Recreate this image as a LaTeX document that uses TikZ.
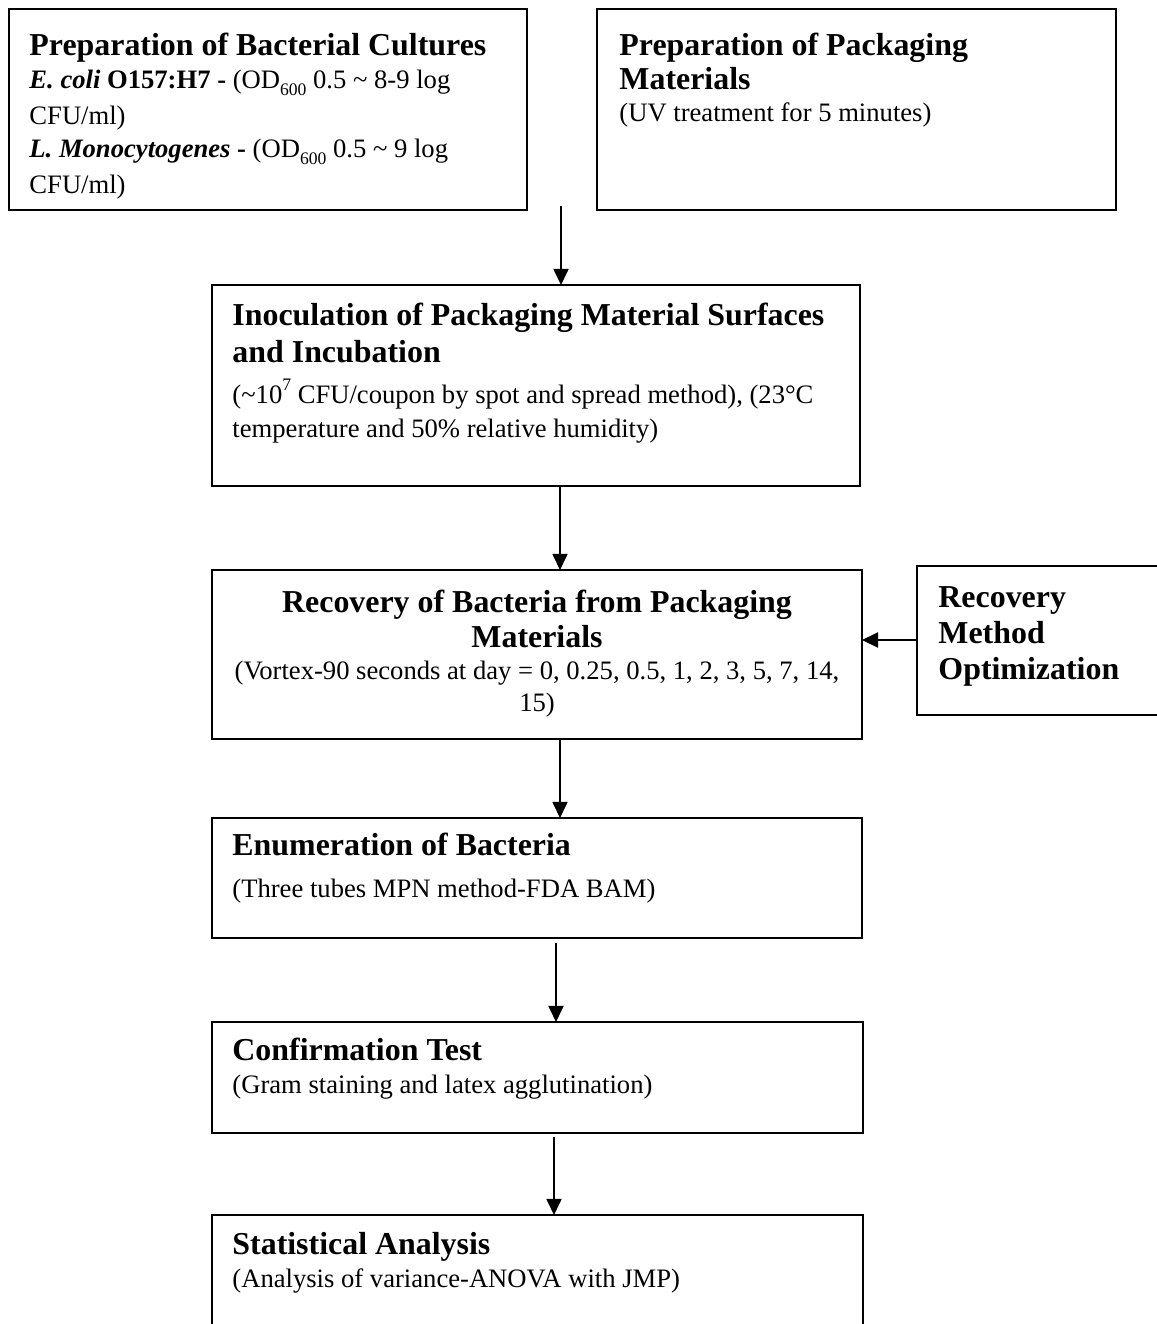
\documentclass[tikz,border=0pt]{standalone}
\usepackage{fontspec}
\setmainfont{Liberation Serif}
\usetikzlibrary{arrows.meta}
\newlength\pxu
\setlength\pxu{0.4545pt}
\newcommand\mysub[1]{\raisebox{-3.2pt}{\fontsize{8}{8}\selectfont #1}}
\newcommand\mysup[1]{\raisebox{5.5pt}{\fontsize{8}{8}\selectfont #1}}
\begin{document}
\begin{tikzpicture}[x=0.4545pt, y=-0.4545pt,
  box/.style={draw, line width=1.15pt, inner sep=0pt, outer sep=0pt, anchor=north west},
  hd/.style={font=\fontsize{14.5}{16}\selectfont\bfseries, inner sep=0pt, anchor=base west},
  bd/.style={font=\fontsize{12.1}{14}\selectfont, inner sep=0pt, anchor=base west},
  arr/.style={line width=0.9pt, -{Triangle[width=6.8pt,length=7.3pt]}}]
\useasboundingbox (0,0) rectangle (1156,1324);
% boxes
\node[box, minimum width=518\pxu, minimum height=201\pxu] (b1) at (9,9) {};
\node[box, minimum width=519\pxu, minimum height=201\pxu] (b2) at (597,9) {};
\node[box, minimum width=648\pxu, minimum height=201\pxu] (b3) at (212,285) {};
\node[box, minimum width=650\pxu, minimum height=169\pxu] (b4) at (212,570) {};
\node[box, minimum width=260\pxu, minimum height=149\pxu] (b5) at (917,566) {};
\node[box, minimum width=650\pxu, minimum height=120\pxu] (b6) at (212,818) {};
\node[box, minimum width=651\pxu, minimum height=111\pxu] (b7) at (212,1022) {};
\node[box, minimum width=651\pxu, minimum height=130\pxu] (b8) at (212,1215) {};
% box 1 text
\node[hd] (t1a) at (29,55) {Preparation of Bacterial Cultures};
\node[bd] (t1b) at (29,88) {\textbf{\textit{E. coli}} \textbf{O157:H7 -} (OD\mysub{600} 0.5 \textasciitilde{} 8-9 log};
\node[bd] (t1c) at (29,124) {CFU/ml)};
\node[bd] (t1d) at (29,157) {\textbf{\textit{L. Monocytogenes}} \textbf{-} (OD\mysub{600} 0.5 \textasciitilde{} 9 log};
\node[bd] (t1e) at (29,193) {CFU/ml)};
% box 2 text
\node[hd] (t2a) at (619,55) {Preparation of Packaging};
\node[hd] (t2b) at (619,89) {Materials};
\node[bd] (t2c) at (619,121) {(UV treatment for 5 minutes)};
% box 3 text
\node[hd] (t3a) at (232,325) {Inoculation of Packaging Material Surfaces};
\node[hd] (t3b) at (232,362) {and Incubation};
\node[bd] (t3c) at (232,403) {(\textasciitilde10\mysup{7} CFU/coupon by spot and spread method), (23°C};
\node[bd] (t3d) at (232,437) {temperature and 50\% relative humidity)};
% box 4 text
\node[hd, anchor=base] (t4a) at (537,612) {Recovery of Bacteria from Packaging};
\node[hd, anchor=base] (t4b) at (537,647) {Materials};
\node[bd, anchor=base] (t4c) at (537,679) {(Vortex-90 seconds at day = 0, 0.25, 0.5, 1, 2, 3, 5, 7, 14,};
\node[bd, anchor=base] (t4d) at (537,711) {15)};
% box 5 text
\node[hd] (t5a) at (938,607) {Recovery};
\node[hd] (t5b) at (938,643) {Method};
\node[hd] (t5c) at (938,679) {Optimization};
% box 6-8 text
\node[hd] (t6a) at (232,855) {Enumeration of Bacteria};
\node[bd] (t6b) at (232,897) {(Three tubes MPN method-FDA BAM)};
\node[hd] (t7a) at (232,1060) {Confirmation Test};
\node[bd] (t7b) at (232,1093) {(Gram staining and latex agglutination)};
\node[hd] (t8a) at (232,1254) {Statistical Analysis};
\node[bd] (t8b) at (232,1287) {(Analysis of variance-ANOVA with JMP)};
% connectors
\coordinate (a1s) at (561,206);
\coordinate (x2) at (560,0);
\coordinate (a4s) at (556,943);
\coordinate (a5s) at (554,1137);
\coordinate (y6) at (0,640);
\draw[arr] (a1s) -- (a1s |- b3.north);
\draw[arr] (b3.south -| x2) -- (b4.north -| x2);
\draw[arr] (b4.south -| x2) -- (b6.north -| x2);
\draw[arr] (a4s) -- (a4s |- b7.north);
\draw[arr] (a5s) -- (a5s |- b8.north);
\draw[arr, line width=1.2pt] (b5.west |- y6) -- (b4.east |- y6);
\end{tikzpicture}
\end{document}
